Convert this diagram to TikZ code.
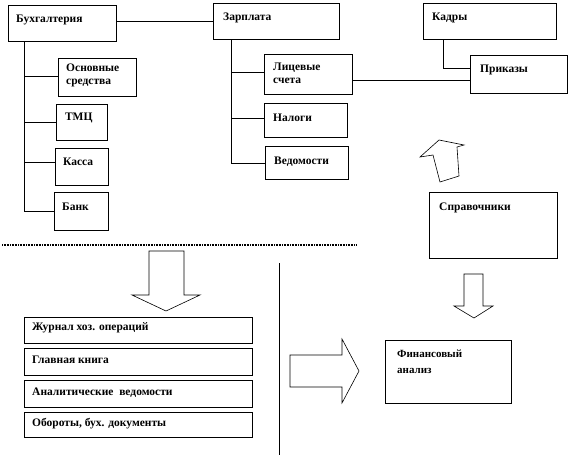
\documentclass[tikz,border=0pt]{standalone}
\usepackage{fontspec}
\setmainfont{Liberation Serif}
\usetikzlibrary{fit}
\begin{document}
\begin{tikzpicture}[x=1pt,y=-1pt,
  box/.style={draw=black, line width=0.7pt, inner sep=0pt},
  txt/.style={anchor=west, inner sep=0pt, font=\fontsize{11.5}{13}\selectfont\bfseries, align=left},
  conn/.style={draw=black, line width=0.8pt},
  barrow/.style={draw=black, line width=0.6pt, fill=white}]
\useasboundingbox (0,0) rectangle (570,456);
% boxes
\node[box, fit={(8,5) (116,41)}] (buh) {};
\node[box, fit={(58,58) (136,96)}] (os) {};
\node[box, fit={(56,104) (107,140)}] (tmc) {};
\node[box, fit={(55,148) (108,185)}] (kassa) {};
\node[box, fit={(54,192) (108,230)}] (bank) {};
\node[box, fit={(213,3) (339,39)}] (zp) {};
\node[box, fit={(264,54) (352,94)}] (lic) {};
\node[box, fit={(264,103) (347,137)}] (nal) {};
\node[box, fit={(265,146) (348,179)}] (ved) {};
\node[box, fit={(423,3) (556,39)}] (kad) {};
\node[box, fit={(470,55) (567,93)}] (pr) {};
\node[box, fit={(429,192) (557,258)}] (spr) {};
\node[box, fit={(24,317) (252,343)}] (j1) {};
\node[box, fit={(24,348) (252,375)}] (j2) {};
\node[box, fit={(24,380) (252,407)}] (j3) {};
\node[box, fit={(24,412) (252,437)}] (j4) {};
\node[box, fit={(385,340) (511,403)}] (fin) {};
% texts
\node[txt] (tbuh) at (16,20) {Бухгалтерия};
\node[txt] (tos) at (66,75) {Основные\\средства};
\node[txt] (ttmc) at (65,118) {ТМЦ};
\node[txt] (tkassa) at (63,162) {Касса};
\node[txt] (tbank) at (62,207) {Банк};
\node[txt] (tzp) at (223,18) {Зарплата};
\node[txt] (tlic) at (273,73) {Лицевые\\счета};
\node[txt] (tnal) at (273,118) {Налоги};
\node[txt] (tved) at (274,162) {Ведомости};
\node[txt] (tkad) at (432,18) {Кадры};
\node[txt] (tpr) at (480,70) {Приказы};
\node[txt] (tspr) at (439,208) {Справочники};
\node[txt] (tj1) at (32,328) {Журнал хоз. операций};
\node[txt] (tj2) at (32,360) {Главная книга};
\node[txt] (tj3) at (32,393) {Аналитические\ \ ведомости};
\node[txt] (tj4) at (32,424) {Обороты, бух. документы};
\node[txt, font=\fontsize{11}{16}\selectfont\bfseries] (tfin) at (397,362) {Финансовый\\анализ};
% connectors
\coordinate (bv) at (buh.south west -| 24,0);
\coordinate (bvend) at (24,211);
\draw[conn] (buh.east |- 0,21) -- (zp.west |- 0,21);
\draw[conn] (bv) -- (bvend);
\draw[conn] (bv |- 0,76) -- (os.west |- 0,76);
\draw[conn] (bv |- tmc.west) -- (tmc.west);
\draw[conn] (bv |- 0,162) -- (kassa.west |- 0,162);
\draw[conn] (bvend) -- (bank.west |- bvend);
\coordinate (zv) at (zp.south west -| 231,0);
\coordinate (zvend) at (231,163);
\draw[conn] (zv) -- (zvend);
\draw[conn] (zv |- 0,72) -- (lic.west |- 0,72);
\draw[conn] (zv |- 0,118) -- (nal.west |- 0,118);
\draw[conn] (zvend) -- (ved.west |- zvend);
\draw[conn] (lic.east |- 0,80) -- (pr.west |- 0,80);
\coordinate (kv) at (kad.south west -| 443,0);
\draw[conn] (kv) |- (pr.west |- 0,68);
% separators
\coordinate (sepA) at (2,245);
\coordinate (sepB) at (356,245);
\draw[line width=1.2pt, dash pattern=on 0.8pt off 0.8pt] (sepA) -- (sepB);
\coordinate (vA) at (279,263);
\coordinate (vB) at (279,455);
\draw[line width=0.8pt] (vA) -- (vB);
% block arrows
\draw[barrow] (149,251) -- (184,251) -- (184,295) -- (200,295) -- (166,311) -- (132,295) -- (149,295) -- cycle;
\draw[barrow] (464,274) -- (483,274) -- (483,306) -- (493,306) -- (474,318) -- (454,306) -- (464,306) -- cycle;
\draw[barrow] (290,355) -- (342,355) -- (342,339) -- (359,371) -- (342,403) -- (342,387) -- (290,387) -- cycle;
\draw[barrow] (439,140) -- (464,145) -- (457,147) -- (459,176) -- (440,182) -- (433,155) -- (420,157) -- cycle;
\end{tikzpicture}
\end{document}
